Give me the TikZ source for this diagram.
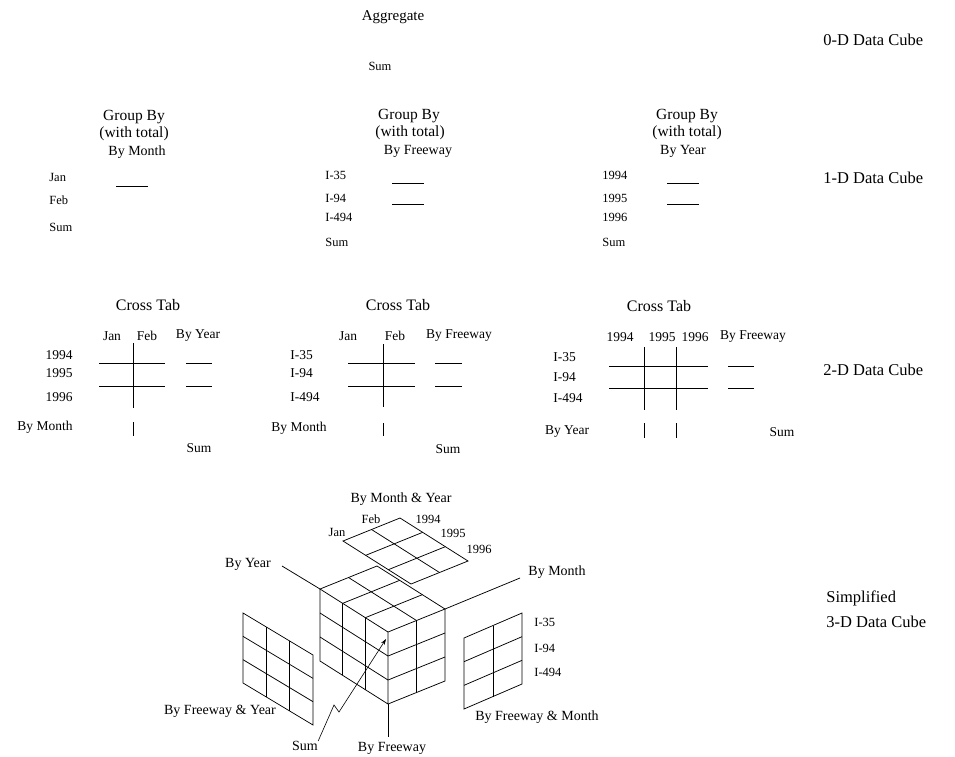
\documentclass[tikz,border=0pt]{standalone}
\usepackage{fontspec}
\setmainfont{Liberation Serif}
\usetikzlibrary{calc,arrows.meta}
\begin{document}
\begin{tikzpicture}[x=1pt,y=-1pt,line width=0.75pt,
  every node/.style={inner sep=0pt},
  small/.style={font=\fontsize{12.5}{14}\selectfont},
  gb/.style={font=\fontsize{15.5}{17}\selectfont},
  by/.style={font=\fontsize{14}{16}\selectfont},
  ttl/.style={font=\fontsize{16}{18}\selectfont},
  dim/.style={font=\fontsize{13.5}{15}\selectfont},
  dc/.style={font=\fontsize{16.5}{19}\selectfont,anchor=west},
  ax/.style={font=\fontsize{14}{16}\selectfont}]
\useasboundingbox (0,0) rectangle (955,756);

% ---------- 0-D ----------
\node[font=\fontsize{15}{17}\selectfont] (agg) at (393,17) {Aggregate};
\node[small] (sum0) at (380,66) {Sum};
\node[dc] (d0) at (823,40) {0-D Data Cube};

% ---------- 1-D ----------
\node[gb] (g1) at (134,117) {Group By};
\node[gb] (w1) at (134,134) {(with total)};
\node[by] (m1) at (137,152) {By Month};
\node[small,anchor=west] (jan1) at (49,177) {Jan};
\node[small,anchor=west] (feb1) at (49,200) {Feb};
\node[small,anchor=west] (sum1) at (49,227) {Sum};
\draw (116,186) -- (148,186);

\node[gb] (g2) at (409,116) {Group By};
\node[gb] (w2) at (410,133) {(with total)};
\node[by] (m2) at (418,151) {By Freeway};
\node[small,anchor=west] (i35a) at (325,175) {I-35};
\node[small,anchor=west] (i94a) at (325,198) {I-94};
\node[small,anchor=west] (i494a) at (325,217) {I-494};
\node[small,anchor=west] (sum2) at (325,242) {Sum};
\draw (392,183) -- (424,183);
\draw (392,204) -- (424,204);

\node[gb] (g3) at (687,116) {Group By};
\node[gb] (w3) at (687,133) {(with total)};
\node[by] (m3) at (683,151) {By Year};
\node[small,anchor=west] (y94a) at (602,175) {1994};
\node[small,anchor=west] (y95a) at (602,198) {1995};
\node[small,anchor=west] (y96a) at (602,217) {1996};
\node[small,anchor=west] (sum3) at (602,242) {Sum};
\draw (667,183) -- (699,183);
\draw (667,204) -- (699,204);
\node[dc] (d1) at (823,178) {1-D Data Cube};

% ---------- 2-D ----------
\node[ttl] (ct1) at (148,305) {Cross Tab};
\node[dim] (c1jan) at (112,336) {Jan};
\node[dim] (c1feb) at (147,336) {Feb};
\node[dim] (c1by) at (198,336) {By Year};
\node[dim,anchor=east] (c1r1) at (73,355) {1994};
\node[dim,anchor=east] (c1r2) at (73,373) {1995};
\node[dim,anchor=east] (c1r3) at (73,397) {1996};
\node[dim,anchor=east] (c1bm) at (73,427) {By Month};
\node[dim] (c1sum) at (199,448) {Sum};
\draw (133,343) -- (133,408);
\draw (99,363) -- (165,363);
\draw (99,386) -- (165,386);
\draw (186,363) -- (212,363);
\draw (186,386) -- (212,386);
\draw (133,422) -- (133,436);

\node[ttl] (ct2) at (398,305) {Cross Tab};
\node[dim] (c2jan) at (348,336) {Jan};
\node[dim] (c2feb) at (395,336) {Feb};
\node[dim] (c2by) at (459,336) {By Freeway};
\node[dim,anchor=west] (c2r1) at (290,355) {I-35};
\node[dim,anchor=west] (c2r2) at (290,373) {I-94};
\node[dim,anchor=west] (c2r3) at (290,397) {I-494};
\node[dim] (c2bm) at (299,428) {By Month};
\node[dim] (c2sum) at (448,449) {Sum};
\draw (383,344) -- (383,407);
\draw (348,363) -- (415,363);
\draw (348,386) -- (415,386);
\draw (435,363) -- (462,363);
\draw (435,386) -- (462,386);
\draw (383,423) -- (383,436);

\node[ttl] (ct3) at (659,306) {Cross Tab};
\node[dim] (c3a) at (620,337) {1994};
\node[dim] (c3b) at (662,337) {1995};
\node[dim] (c3c) at (695,337) {1996};
\node[dim] (c3by) at (753,337) {By Freeway};
\node[dim,anchor=west] (c3r1) at (553,357) {I-35};
\node[dim,anchor=west] (c3r2) at (553,377) {I-94};
\node[dim,anchor=west] (c3r3) at (553,398) {I-494};
\node[dim] (c3byr) at (567,432) {By Year};
\node[dim] (c3sum) at (782,432) {Sum};
\draw (644,347) -- (644,410);
\draw (676,347) -- (676,410);
\draw (609,366) -- (708,366);
\draw (609,388) -- (708,388);
\draw (728,366) -- (754,366);
\draw (728,388) -- (754,388);
\draw (644,423) -- (644,438);
\draw (676,423) -- (676,438);
\node[dc] (d2) at (823,370) {2-D Data Cube};

% ---------- 3-D ----------
% cube
\coordinate (F) at (388,632);
\coordinate (L) at (320,589);
\coordinate (R) at (445,609);
\coordinate (B) at (377,566);
\coordinate (Fb) at (388,704);
\coordinate (Lb) at (320,661);
\coordinate (Rb) at (445,681);
\draw (L) -- (F) -- (R) -- (B) -- cycle;
\foreach \k in {1,2} \draw ($(L)!\k/3!(F)$) -- ($(B)!\k/3!(R)$);
\draw ($(L)!0.5!(B)$) -- ($(F)!0.5!(R)$);
\draw (L) -- (Lb) -- (Fb) -- (F);
\foreach \k in {1,2} {
  \draw ($(L)!\k/3!(F)$) -- ($(Lb)!\k/3!(Fb)$);
  \draw ($(L)!\k/3!(Lb)$) -- ($(F)!\k/3!(Fb)$);
  \draw ($(F)!\k/3!(Fb)$) -- ($(R)!\k/3!(Rb)$);
}
\draw (Fb) -- (Rb) -- (R);
\draw ($(F)!0.5!(R)$) -- ($(Fb)!0.5!(Rb)$);
% axes
\coordinate (yrEnd) at (282,566);
\coordinate (moEnd) at (520,578);
\coordinate (fwEnd) at (388,737);
\draw (L) -- (yrEnd);
\draw (R) -- (moEnd);
\draw (Fb) -- (fwEnd);

% top slab (month & year)
\coordinate (L2) at (343,541);
\coordinate (F2) at (411,584);
\coordinate (B2) at (400,518);
\coordinate (R2) at (468,561);
\draw (L2) -- (F2) -- (R2) -- (B2) -- cycle;
\foreach \k in {1,2} \draw ($(L2)!\k/3!(F2)$) -- ($(B2)!\k/3!(R2)$);
\draw ($(L2)!0.5!(B2)$) -- ($(F2)!0.5!(R2)$);

% left panel (freeway & year)
\coordinate (P1) at (243,613);
\coordinate (P2) at (313,655);
\coordinate (P3) at (313,725);
\coordinate (P4) at (243,683);
\draw (P1) -- (P2) -- (P3) -- (P4) -- cycle;
\foreach \k in {1,2} {
  \draw ($(P1)!\k/3!(P2)$) -- ($(P4)!\k/3!(P3)$);
  \draw ($(P1)!\k/3!(P4)$) -- ($(P2)!\k/3!(P3)$);
}

% right panel (freeway & month)
\coordinate (Q1) at (464,638);
\coordinate (Q2) at (522,613);
\coordinate (Q3) at (522,684);
\coordinate (Q4) at (464,709);
\draw (Q1) -- (Q2) -- (Q3) -- (Q4) -- cycle;
\draw ($(Q1)!0.5!(Q2)$) -- ($(Q4)!0.5!(Q3)$);
\foreach \k in {1,2} \draw ($(Q1)!\k/3!(Q4)$) -- ($(Q2)!\k/3!(Q3)$);

% labels
\node[ax] (bmy) at (401,499) {By Month \& Year};
\node[small] (sfeb) at (371,519) {Feb};
\node[small] (sjan) at (337,532) {Jan};
\node[small] (s94) at (428,519) {1994};
\node[small] (s95) at (453,533) {1995};
\node[small] (s96) at (479,549) {1996};
\node[ax] (lyear) at (248,564) {By Year};
\node[ax] (lmonth) at (557,572) {By Month};
\node[small,anchor=west] (r35) at (534,622) {I-35};
\node[small,anchor=west] (r94) at (534,648) {I-94};
\node[small,anchor=west] (r494) at (534,672) {I-494};
\node[ax] (lfm) at (537,717) {By Freeway \& Month};
\node[ax] (lfy) at (220,711) {By Freeway \& Year};
\node[ax] (lsum) at (305,746) {Sum};
\node[ax] (lfw) at (392,748) {By Freeway};
\node[dc] (simp) at (826,598) {Simplified};
\node[dc] (d3) at (826,622) {3-D Data Cube};

% sum arrow
\coordinate (z1) at (334,705);
\coordinate (z2) at (339,712);
\draw[-{Stealth[length=6pt,width=4pt]},line width=0.6pt] (lsum.north east) -- (z1) -- (z2) -- ($(F)+(-2,7)$);
\end{tikzpicture}
\end{document}
